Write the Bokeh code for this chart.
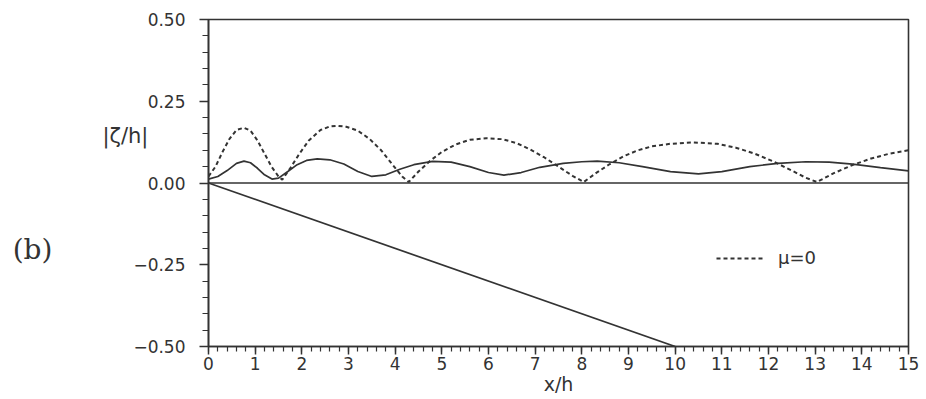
from bokeh.plotting import figure
from bokeh.models import (Range1d, FixedTicker, Span, Label, Legend, LegendItem)
from bokeh.embed import file_html
from bokeh.resources import INLINE

# ---- data ----
dash_x = [0.0, 0.15, 0.3, 0.45, 0.6, 0.76, 0.9, 1.05, 1.2, 1.35, 1.5, 1.58,
          1.75, 1.95, 2.15, 2.4, 2.6, 2.76, 2.95, 3.2, 3.45, 3.7, 3.95, 4.15, 4.29,
          4.5, 4.75, 5.0, 5.3, 5.6, 5.95, 6.3, 6.6, 6.9, 7.2, 7.5, 7.8, 8.04,
          8.3, 8.6, 8.9, 9.2, 9.5, 9.9, 10.4, 10.9, 11.3, 11.7, 12.1, 12.5, 12.8, 13.04,
          13.4, 13.8, 14.2, 14.6, 15.0]
dash_y = [0.02, 0.05, 0.095, 0.135, 0.162, 0.169, 0.16, 0.13, 0.09, 0.05, 0.02, 0.01,
          0.045, 0.09, 0.13, 0.162, 0.173, 0.175, 0.172, 0.16, 0.135, 0.1, 0.055, 0.02, 0.003,
          0.035, 0.068, 0.095, 0.118, 0.132, 0.137, 0.134, 0.122, 0.102, 0.078, 0.05, 0.022, 0.003,
          0.03, 0.058, 0.082, 0.1, 0.112, 0.12, 0.124, 0.12, 0.108, 0.09, 0.066, 0.038, 0.016, 0.003,
          0.03, 0.055, 0.075, 0.09, 0.1]

solid_x = [0.0, 0.2, 0.4, 0.6, 0.76, 0.9, 1.05, 1.2, 1.36, 1.5, 1.7, 1.9, 2.1, 2.33,
           2.6, 2.9, 3.2, 3.5, 3.8, 4.1, 4.4, 4.8, 5.2, 5.6, 6.0, 6.33, 6.7, 7.1,
           7.6, 8.0, 8.33, 8.8, 9.3, 9.9, 10.5, 11.0, 11.6, 12.2, 12.8, 13.3, 13.8,
           14.4, 15.0]
solid_y = [0.012, 0.02, 0.038, 0.06, 0.067, 0.062, 0.045, 0.025, 0.012, 0.015, 0.035,
           0.056, 0.069, 0.074, 0.071, 0.058, 0.035, 0.02, 0.025, 0.042, 0.056, 0.066,
           0.064, 0.05, 0.032, 0.024, 0.032, 0.048, 0.06, 0.065, 0.067, 0.062, 0.05,
           0.035, 0.028, 0.035, 0.05, 0.06, 0.065, 0.064, 0.058, 0.047, 0.037]

bottom_x = [0.0, 10.0]
bottom_y = [0.0, -0.5]

y_ticks = [-0.5, -0.25, 0.0, 0.25, 0.5]
y_tick_labels = ["\u22120.50", "\u22120.25", "0.00", "0.25", "0.50"]
x_ticks = list(range(0, 16))

INK = "#333333"
FONT = "DejaVu Sans"

p = figure(width=926, height=399, output_backend="svg", toolbar_location=None,
           x_range=Range1d(0, 15), y_range=Range1d(-0.5, 0.5),
           min_border_left=208, min_border_right=18, min_border_top=19,
           min_border_bottom=53)
p.background_fill_color = "white"
p.border_fill_color = "white"
p.grid.visible = False
p.outline_line_color = INK
p.outline_line_width = 1.6

# axes
p.xaxis.ticker = FixedTicker(ticks=x_ticks,
                             minor_ticks=[i * 0.2 for i in range(0, 76)])
p.yaxis.ticker = FixedTicker(ticks=y_ticks,
                             minor_ticks=[-0.5 + i * 0.05 for i in range(0, 21)])
p.yaxis.major_label_overrides = {t: l for t, l in zip(y_ticks, y_tick_labels)}
for ax in (p.xaxis, p.yaxis):
    ax.axis_line_color = INK
    ax.axis_line_width = 1.6
    ax.major_tick_line_color = INK
    ax.minor_tick_line_color = INK
    ax.major_tick_line_width = 1.5
    ax.minor_tick_line_width = 1.2
    ax.major_tick_in = 0
    ax.minor_tick_in = 0
    ax.major_label_text_color = INK
    ax.major_label_text_font = FONT
    ax.major_label_text_font_size = "17px"
p.xaxis.major_tick_out = 8
p.xaxis.minor_tick_out = 5
p.yaxis.major_tick_out = 9
p.yaxis.minor_tick_out = 6
p.xaxis.major_label_standoff = 2
p.yaxis.major_label_standoff = 14
p.xaxis.axis_label = "x/h"
p.xaxis.axis_label_text_font = FONT
p.xaxis.axis_label_text_font_style = "normal"
p.xaxis.axis_label_text_font_size = "19px"
p.xaxis.axis_label_text_color = INK
p.xaxis.axis_label_standoff = 0

# zero line
p.add_layout(Span(location=0, dimension="width", line_color=INK, line_width=1.6))

# curves
p.line(bottom_x, bottom_y, line_color=INK, line_width=1.7)
p.line(solid_x, solid_y, line_color=INK, line_width=1.7)
r_dash = p.line(dash_x, dash_y, line_color=INK, line_width=2, line_dash="4 3")

# legend
leg = Legend(items=[LegendItem(label="\u03bc=0", renderers=[r_dash])],
             location=(508, 78), background_fill_alpha=0, border_line_alpha=0,
             padding=0, margin=0, glyph_width=49, glyph_height=16,
             label_standoff=13, label_text_font=FONT, label_text_font_size="18px",
             label_text_color=INK)
p.add_layout(leg, "center")

# y-axis label and panel tag, placed in the left side panel
p.add_layout(Label(x=-1.78, y=0.144,
                   text="|\u03b6/h|", text_align="center",
                   text_baseline="middle", text_font=FONT, text_font_size="21px",
                   text_color=INK), "left")
p.add_layout(Label(x=-3.77, y=-0.202,
                   text="(b)", text_align="center",
                   text_baseline="middle", text_font="DejaVu Serif",
                   text_font_size="28px", text_color=INK), "left")

open("out.html", "w").write(file_html(p, INLINE))
